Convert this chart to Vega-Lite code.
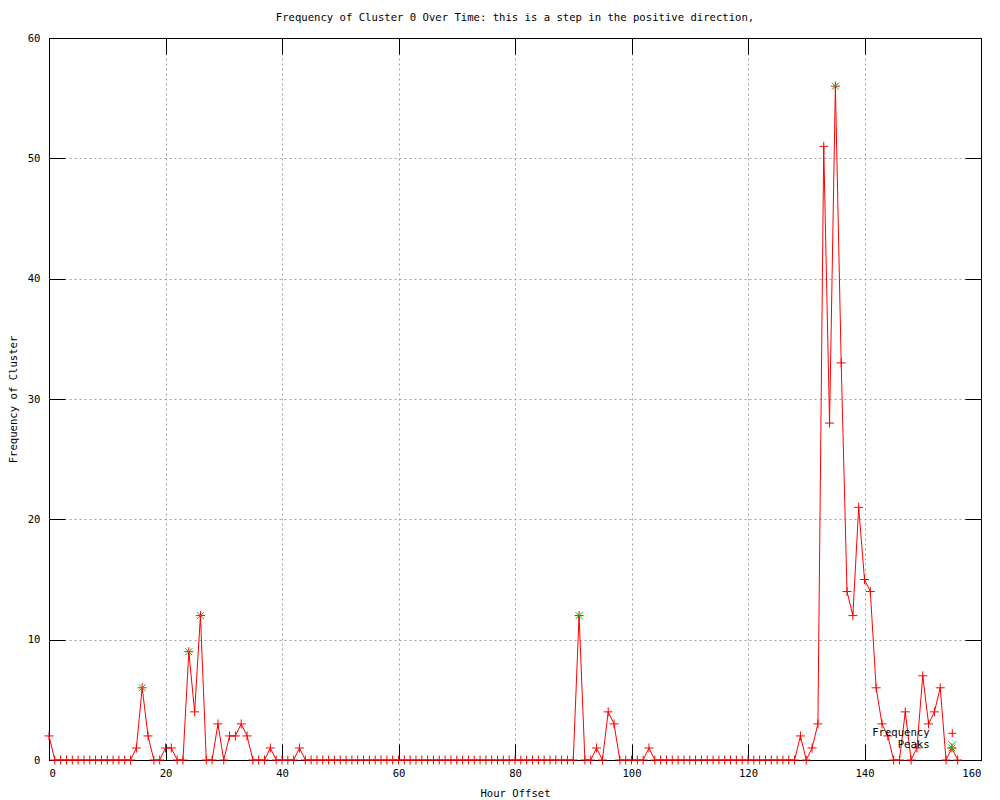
{
  "$schema": "https://vega.github.io/schema/vega-lite/v6.json",
  "width": 932,
  "height": 722,
  "autosize": "none",
  "padding": {"left": 49, "top": 38, "right": 19, "bottom": 40},
  "background": "white",
  "title": {"text": "Frequency of Cluster 0 Over Time: this is a step in the positive direction,", "font": "DejaVu Sans Mono", "fontSize": 10.6, "fontWeight": "normal", "color": "black", "offset": 9},
  "config": {
    "view": {"stroke": "black", "strokeWidth": 1},
    "axis": {"labelFont": "DejaVu Sans Mono", "labelFontSize": 10.6, "labelColor": "black", "titleFont": "DejaVu Sans Mono", "titleFontSize": 10.6, "titleFontWeight": "normal", "titleColor": "black", "domain": false, "tickColor": "black", "tickSize": -16, "gridOpacity": 1}
  },
  "resolve": {"axis": {"x": "independent", "y": "independent"}},
  "data": {"values": [
    {"h":0,"f":2},{"h":1,"f":0},{"h":2,"f":0},{"h":3,"f":0},{"h":4,"f":0},{"h":5,"f":0},{"h":6,"f":0},{"h":7,"f":0},{"h":8,"f":0},{"h":9,"f":0},
    {"h":10,"f":0},{"h":11,"f":0},{"h":12,"f":0},{"h":13,"f":0},{"h":14,"f":0},{"h":15,"f":1},{"h":16,"f":6,"p":1},{"h":17,"f":2},{"h":18,"f":0},{"h":19,"f":0},
    {"h":20,"f":1},{"h":21,"f":1},{"h":22,"f":0},{"h":23,"f":0},{"h":24,"f":9,"p":1},{"h":25,"f":4},{"h":26,"f":12,"p":1},{"h":27,"f":0},{"h":28,"f":0},{"h":29,"f":3},
    {"h":30,"f":0},{"h":31,"f":2},{"h":32,"f":2},{"h":33,"f":3},{"h":34,"f":2},{"h":35,"f":0},{"h":36,"f":0},{"h":37,"f":0},{"h":38,"f":1},{"h":39,"f":0},
    {"h":40,"f":0},{"h":41,"f":0},{"h":42,"f":0},{"h":43,"f":1},{"h":44,"f":0},{"h":45,"f":0},{"h":46,"f":0},{"h":47,"f":0},{"h":48,"f":0},{"h":49,"f":0},
    {"h":50,"f":0},{"h":51,"f":0},{"h":52,"f":0},{"h":53,"f":0},{"h":54,"f":0},{"h":55,"f":0},{"h":56,"f":0},{"h":57,"f":0},{"h":58,"f":0},{"h":59,"f":0},
    {"h":60,"f":0},{"h":61,"f":0},{"h":62,"f":0},{"h":63,"f":0},{"h":64,"f":0},{"h":65,"f":0},{"h":66,"f":0},{"h":67,"f":0},{"h":68,"f":0},{"h":69,"f":0},
    {"h":70,"f":0},{"h":71,"f":0},{"h":72,"f":0},{"h":73,"f":0},{"h":74,"f":0},{"h":75,"f":0},{"h":76,"f":0},{"h":77,"f":0},{"h":78,"f":0},{"h":79,"f":0},
    {"h":80,"f":0},{"h":81,"f":0},{"h":82,"f":0},{"h":83,"f":0},{"h":84,"f":0},{"h":85,"f":0},{"h":86,"f":0},{"h":87,"f":0},{"h":88,"f":0},{"h":89,"f":0},
    {"h":90,"f":0},{"h":91,"f":12,"p":1},{"h":92,"f":0},{"h":93,"f":0},{"h":94,"f":1},{"h":95,"f":0},{"h":96,"f":4},{"h":97,"f":3},{"h":98,"f":0},{"h":99,"f":0},
    {"h":100,"f":0},{"h":101,"f":0},{"h":102,"f":0},{"h":103,"f":1},{"h":104,"f":0},{"h":105,"f":0},{"h":106,"f":0},{"h":107,"f":0},{"h":108,"f":0},{"h":109,"f":0},
    {"h":110,"f":0},{"h":111,"f":0},{"h":112,"f":0},{"h":113,"f":0},{"h":114,"f":0},{"h":115,"f":0},{"h":116,"f":0},{"h":117,"f":0},{"h":118,"f":0},{"h":119,"f":0},
    {"h":120,"f":0},{"h":121,"f":0},{"h":122,"f":0},{"h":123,"f":0},{"h":124,"f":0},{"h":125,"f":0},{"h":126,"f":0},{"h":127,"f":0},{"h":128,"f":0},{"h":129,"f":2},
    {"h":130,"f":0},{"h":131,"f":1},{"h":132,"f":3},{"h":133,"f":51},{"h":134,"f":28},{"h":135,"f":56,"p":1},{"h":136,"f":33},{"h":137,"f":14},{"h":138,"f":12},{"h":139,"f":21},
    {"h":140,"f":15},{"h":141,"f":14},{"h":142,"f":6},{"h":143,"f":3},{"h":144,"f":2},{"h":145,"f":0},{"h":146,"f":0},{"h":147,"f":4},{"h":148,"f":0},{"h":149,"f":1},
    {"h":150,"f":7},{"h":151,"f":3},{"h":152,"f":4},{"h":153,"f":6},{"h":154,"f":0},{"h":155,"f":1,"p":1},{"h":156,"f":0}
  ]},
  "layer": [
    {"mark": {"type": "line", "color": "#ff0000", "strokeWidth": 1},
     "encoding": {
       "x": {"field": "h", "type": "quantitative", "scale": {"domain": [0, 160], "nice": false, "zero": false},
             "axis": {"title": "Hour Offset", "values": [0,20,40,60,80,100,120,140,160], "labelPadding": 24, "titlePadding": 10,
                      "gridColor": {"condition": {"test": "datum.value == 0 || datum.value == 160", "value": "black"}, "value": "#a0a0a0"},
                      "gridDash": {"condition": {"test": "datum.value == 0 || datum.value == 160", "value": []}, "value": [2, 3]}}},
       "y": {"field": "f", "type": "quantitative", "scale": {"domain": [0, 60], "nice": false},
             "axis": {"title": "Frequency of Cluster", "values": [0,10,20,30,40,50,60], "labelPadding": 25, "titlePadding": 9,
                      "gridColor": {"condition": {"test": "datum.value == 0 || datum.value == 60", "value": "black"}, "value": "#a0a0a0"},
                      "gridDash": {"condition": {"test": "datum.value == 0 || datum.value == 60", "value": []}, "value": [2, 3]}}}
     }},
    {"mark": {"type": "point", "filled": false, "strokeWidth": 1, "opacity": 1},
     "encoding": {
       "x": {"field": "h", "type": "quantitative", "axis": {"orient": "top", "values": [0,20,40,60,80,100,120,140,160], "labels": false, "title": null, "grid": false}},
       "y": {"field": "f", "type": "quantitative", "axis": {"orient": "right", "values": [0,10,20,30,40,50,60], "labels": false, "title": null, "grid": false}},
       "color": {"datum": "Frequency", "type": "nominal", "scale": {"domain": ["Frequency", "Peaks"], "range": ["#ff0000", "#00c000"]}, "legend": {"title": null, "orient": "none", "legendX": 898, "legendY": 690, "labelFont": "DejaVu Sans Mono", "labelFontSize": 10.6, "labelColor": "black", "labelAlign": "right", "labelOffset": -28, "rowPadding": -2, "symbolSize": 64, "symbolStrokeWidth": 1}},
       "shape": {"datum": "Frequency", "type": "nominal", "scale": {"domain": ["Frequency", "Peaks"], "range": ["M-1,0H1M0,-1V1", "M-1,-1L1,1M-1,1L1,-1"]}, "legend": null},
       "size": {"value": 81}
     }},
    {"transform": [{"filter": "datum.p == 1"}],
     "mark": {"type": "point", "filled": false, "strokeWidth": 1, "opacity": 1},
     "encoding": {
       "x": {"field": "h", "type": "quantitative", "axis": null},
       "y": {"field": "f", "type": "quantitative", "axis": null},
       "color": {"datum": "Peaks", "type": "nominal"},
       "shape": {"datum": "Peaks", "type": "nominal"},
       "size": {"value": 49}
     }}
  ]
}
